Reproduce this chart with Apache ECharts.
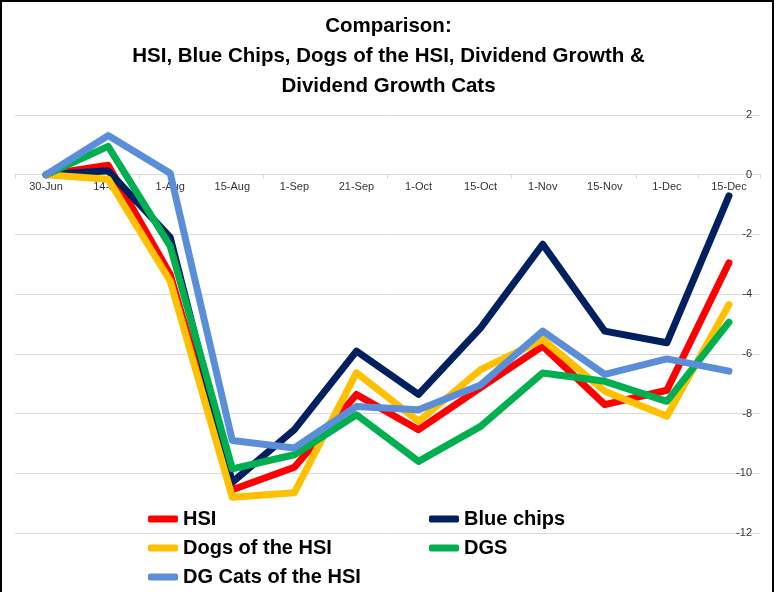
<!DOCTYPE html>
<html>
<head>
<meta charset="utf-8">
<script src="https://cdn.jsdelivr.net/npm/echarts@6/dist/echarts.min.js"></script>
<style>
html,body{margin:0;padding:0;background:#fff;}
#c{width:777px;height:592px;}
</style>
</head>
<body>
<div id="c"></div>
<script>
var categories = ['30-Jun','14-Jul','1-Aug','15-Aug','1-Sep','21-Sep','1-Oct','15-Oct','1-Nov','15-Nov','1-Dec','15-Dec'];
var hsi       = [0, 0.32, -3.34, -10.55, -9.8, -7.36, -8.54, -7.13, -5.74, -7.7, -7.22, -2.95];
var blueChips = [0, 0.13, -2.1, -10.3, -8.54, -5.91, -7.36, -5.13, -2.33, -5.24, -5.63, -0.71];
var dogs      = [0, -0.15, -3.56, -10.8, -10.65, -6.63, -8.26, -6.53, -5.52, -7.25, -8.09, -4.35];
var dgs       = [0, 0.95, -2.39, -9.85, -9.38, -8.04, -9.6, -8.43, -6.64, -6.92, -7.59, -4.94];
var dgCats    = [0, 1.31, 0.05, -8.9, -9.15, -7.76, -7.87, -7.04, -5.24, -6.69, -6.17, -6.58];
var yMin = -12, yMax = 2;

var gridTop = 115, gridBottom = 59, H = 592;
var plotH = H - gridTop - gridBottom;
var zeroOffset = plotH * (0 - yMin) / (yMax - yMin);

var chart = echarts.init(document.getElementById('c'));
function mk(name, data, color){
  return {name:name, type:'line', data:data, symbol:'none', showSymbol:false,
    lineStyle:{width:7, color:color, cap:'round', join:'round'}, itemStyle:{color:color}};
}
var legendText = {fontFamily:'Liberation Sans', fontWeight:'bold', fontSize:20, color:'#000'};
chart.setOption({
  animation:false,
  backgroundColor:'#fff',
  title:{
    text:'Comparison:\nHSI, Blue Chips, Dogs of the HSI, Dividend Growth &\nDividend Growth Cats',
    left:'center', top:6,
    textStyle:{fontFamily:'Liberation Sans', fontWeight:'bold', fontSize:20.5, lineHeight:30, color:'#000'}
  },
  grid:{left:15, right:17, top:gridTop, bottom:gridBottom, containLabel:false},
  xAxis:{
    type:'category', data:categories, boundaryGap:true,
    offset:-zeroOffset,
    axisLine:{onZero:false, lineStyle:{color:'#d9d9d9'}},
    axisTick:{show:true, interval:1, length:4, lineStyle:{color:'#d9d9d9'}},
    axisLabel:{fontFamily:'Liberation Sans', fontSize:11, color:'#333', margin:7, interval:0}
  },
  yAxis:{
    type:'value', position:'right', min:yMin, max:yMax, interval:2,
    axisLine:{show:false}, axisTick:{show:false},
    splitLine:{lineStyle:{color:'#d9d9d9', width:1}},
    axisLabel:{inside:true, margin:8, fontFamily:'Liberation Sans', fontSize:11, color:'#333'}
  },
  legend:[
    {data:['HSI','Dogs of the HSI','DG Cats of the HSI'], orient:'vertical', left:143, top:504,
     icon:'roundRect', itemWidth:30, itemHeight:7, itemGap:9, textStyle:legendText},
    {data:['Blue chips','DGS'], orient:'vertical', left:424, top:504,
     icon:'roundRect', itemWidth:30, itemHeight:7, itemGap:9, textStyle:legendText}
  ],
  graphic:[{type:'rect', shape:{x:1, y:1, width:772, height:620}, style:{fill:null, stroke:'#000', lineWidth:2}, z:100}],
  series:[
    mk('HSI', hsi, '#FF0000'),
    mk('Blue chips', blueChips, '#002060'),
    mk('Dogs of the HSI', dogs, '#FFC000'),
    mk('DGS', dgs, '#00B050'),
    mk('DG Cats of the HSI', dgCats, '#5B8ED9')
  ]
});
</script>
</body>
</html>
